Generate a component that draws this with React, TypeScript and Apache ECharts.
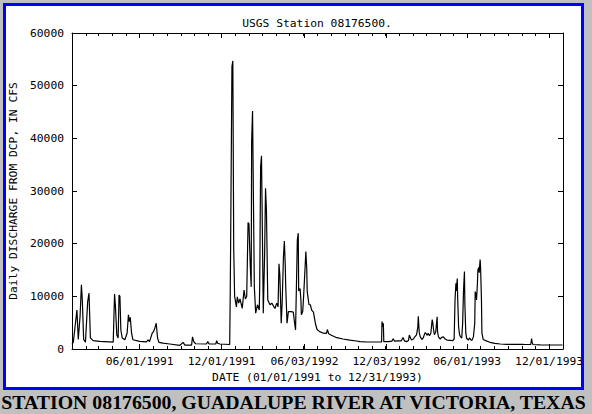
import React, { useEffect, useRef } from "react";
import * as echarts from "echarts";

// Daily discharge (cfs) at key dates
const dates: string[] = [
  "1991-01-01", "1991-01-04", "1991-01-12", "1991-01-15", "1991-01-19", "1991-01-22", "1991-01-24", "1991-01-27",
  "1991-01-31", "1991-02-05", "1991-02-08", "1991-02-11", "1991-02-17", "1991-03-04", "1991-03-26", "1991-04-03",
  "1991-04-06", "1991-04-08", "1991-04-11", "1991-04-14", "1991-04-16", "1991-04-18", "1991-04-20", "1991-04-23",
  "1991-04-29", "1991-05-04", "1991-05-07", "1991-05-09", "1991-05-11", "1991-05-14", "1991-05-17", "1991-06-01",
  "1991-06-16", "1991-06-20", "1991-06-23", "1991-06-29", "1991-07-02", "1991-07-05", "1991-07-08", "1991-07-11",
  "1991-07-14", "1991-07-23", "1991-08-07", "1991-08-30", "1991-09-06", "1991-09-10", "1991-09-25", "1991-09-27",
  "1991-09-30", "1991-10-04", "1991-10-28", "1991-10-31", "1991-11-03", "1991-11-18", "1991-11-20", "1991-11-22",
  "1991-11-27", "1991-12-19", "1991-12-20", "1991-12-21", "1991-12-24", "1991-12-26", "1991-12-28", "1991-12-30",
  "1992-01-03", "1992-01-05", "1992-01-08", "1992-01-11", "1992-01-16", "1992-01-20", "1992-01-23", "1992-01-26",
  "1992-01-29", "1992-01-31", "1992-02-03", "1992-02-05", "1992-02-06", "1992-02-08", "1992-02-10", "1992-02-12",
  "1992-02-15", "1992-02-19", "1992-02-23", "1992-02-24", "1992-02-26", "1992-02-28", "1992-02-29", "1992-03-03",
  "1992-03-06", "1992-03-08", "1992-03-10", "1992-03-13", "1992-03-18", "1992-03-22", "1992-03-29", "1992-04-02",
  "1992-04-05", "1992-04-07", "1992-04-09", "1992-04-12", "1992-04-14", "1992-04-17", "1992-04-19", "1992-04-21",
  "1992-04-22", "1992-04-25", "1992-04-28", "1992-05-04", "1992-05-09", "1992-05-11", "1992-05-14", "1992-05-18",
  "1992-05-20", "1992-05-21", "1992-05-24", "1992-05-26", "1992-05-27", "1992-05-30", "1992-06-01", "1992-06-04",
  "1992-06-06", "1992-06-08", "1992-06-09", "1992-06-13", "1992-06-16", "1992-06-19", "1992-06-23", "1992-06-26",
  "1992-06-28", "1992-07-01", "1992-07-07", "1992-07-15", "1992-07-22", "1992-07-24", "1992-07-27", "1992-08-02",
  "1992-08-14", "1992-08-28", "1992-09-12", "1992-09-27", "1992-10-05", "1992-10-20", "1992-11-18", "1992-11-22",
  "1992-11-23", "1992-11-25", "1992-11-26", "1992-11-27", "1992-12-07", "1992-12-15", "1992-12-18", "1992-12-21",
  "1992-12-29", "1993-01-05", "1993-01-09", "1993-01-12", "1993-01-17", "1993-01-21", "1993-01-23", "1993-01-26",
  "1993-01-28", "1993-02-01", "1993-02-05", "1993-02-08", "1993-02-11", "1993-02-12", "1993-02-14", "1993-02-16",
  "1993-02-20", "1993-02-23", "1993-02-27", "1993-03-01", "1993-03-04", "1993-03-06", "1993-03-09", "1993-03-12",
  "1993-03-15", "1993-03-16", "1993-03-18", "1993-03-20", "1993-03-23", "1993-03-26", "1993-03-27", "1993-03-29",
  "1993-04-02", "1993-04-05", "1993-04-09", "1993-04-13", "1993-04-17", "1993-04-24", "1993-04-30", "1993-05-03",
  "1993-05-05", "1993-05-07", "1993-05-08", "1993-05-10", "1993-05-11", "1993-05-13", "1993-05-15", "1993-05-17",
  "1993-05-20", "1993-05-22", "1993-05-24", "1993-05-26", "1993-05-27", "1993-05-29", "1993-05-31", "1993-06-04",
  "1993-06-06", "1993-06-10", "1993-06-12", "1993-06-15", "1993-06-18", "1993-06-19", "1993-06-21", "1993-06-22",
  "1993-06-24", "1993-06-25", "1993-06-27", "1993-06-28", "1993-06-30", "1993-07-01", "1993-07-03", "1993-07-04",
  "1993-07-07", "1993-07-15", "1993-07-22", "1993-08-02", "1993-08-14", "1993-08-29", "1993-09-20", "1993-10-05",
  "1993-10-21", "1993-10-23", "1993-10-24", "1993-10-26", "1993-11-11", "1993-12-03", "1993-12-31",
];

const discharge: number[] = [
  900, 1300, 7400, 1800, 6200, 12200, 9300, 1800,
  1300, 9000, 10600, 2100, 1600, 1450, 1350, 1300,
  10450, 8000, 2650, 2100, 10250, 10000, 3650, 2100,
  1750, 3000, 6500, 5200, 6000, 3000, 1750, 1450,
  1350, 1750, 1400, 3000, 3300, 4000, 4900, 2100,
  1250, 1100, 950, 700, 1250, 750, 750, 2300,
  1350, 1000, 950, 1400, 950, 950, 1600, 1100,
  950, 850, 8700, 18800, 53600, 54700, 19000, 10000,
  8000, 9900, 8700, 9500, 7700, 11200, 9500, 10000,
  24000, 23800, 15600, 11800, 39400, 45200, 28300, 11800,
  6800, 8400, 7400, 12000, 34600, 36700, 29500, 6800,
  18200, 30500, 26400, 9300, 8400, 8700, 7700, 8700,
  8000, 16200, 14000, 4900, 8500, 17500, 20500, 16000,
  12000, 4900, 7100, 7100, 7000, 5500, 3600, 20700,
  22000, 11000, 11500, 9300, 6500, 7100, 10000, 15000,
  18500, 15300, 11000, 8400, 8400, 7400, 7000, 5500,
  4600, 3700, 3300, 3000, 2950, 3700, 2900, 2600,
  2150, 1900, 1700, 1520, 1400, 1330, 1330, 1350,
  5200, 4200, 4900, 1400, 1400, 1500, 1950, 1500,
  1550, 1550, 2200, 1550, 1400, 1600, 2650, 2000,
  1700, 1900, 2400, 2700, 4200, 6200, 3200, 2400,
  1800, 2100, 3100, 3000, 2600, 3000, 2500, 3000,
  5600, 5200, 3700, 2700, 3300, 6100, 3300, 2300,
  1900, 2200, 2300, 1900, 1700, 1650, 1600, 1900,
  9300, 12500, 11000, 13400, 9300, 4200, 2800, 2300,
  2100, 4900, 11200, 14700, 8500, 3000, 2000, 1700,
  2100, 1700, 1700, 2300, 4900, 10900, 10300, 9300,
  12500, 15000, 15500, 14500, 17000, 15500, 9300, 3000,
  1800, 1500, 1270, 1080, 950, 890, 890, 870,
  850, 2000, 1300, 850, 800, 760, 760,
];

const majorTickDates: string[] = ["1991-06-01", "1991-12-01", "1992-06-03", "1992-12-03", "1993-06-01", "1993-12-01"];
const majorTickLabels: string[] = ["06/01/1991", "12/01/1991", "06/03/1992", "12/03/1992", "06/01/1993", "12/01/1993"];
const yTickStep = 10000;
const yMax = 60000;

const START = Date.UTC(1991, 0, 1);
const dayIndex = (s: string): number => {
  const [y, m, d] = s.split("-").map(Number);
  return Math.round((Date.UTC(y, m - 1, d) - START) / 86400000);
};
const X_MAX = dayIndex("1994-01-01");

const monthStarts: number[] = [];
for (let y = 1991; y <= 1993; y++) {
  for (let m = 0; m < 12; m++) {
    const v = Math.round((Date.UTC(y, m, 1) - START) / 86400000);
    if (v > 0) monthStarts.push(v);
  }
}
const majorDays = majorTickDates.map(dayIndex);
const labelByDay: Record<number, string> = {};
majorDays.forEach((d, i) => (labelByDay[d] = majorTickLabels[i]));

const MONO = "DejaVu Sans Mono";
const FS = 11.3;

export default function App() {
  const ref = useRef<HTMLDivElement>(null);
  useEffect(() => {
    if (!ref.current) return;
    const chart = echarts.init(ref.current, null, { renderer: "svg" });
    const black = { color: "#000", width: 1 };
    const xBase = (extra: any) => ({
      type: "value",
      min: 0,
      max: X_MAX,
      splitLine: { show: false },
      axisLine: { show: true, onZero: false, lineStyle: black },
      axisLabel: { show: false },
      ...extra,
    });
    const option: any = {
      animation: false,
      backgroundColor: "#c0c0c0",
      grid: { left: 72, top: 33, right: 29, bottom: 65, show: false },
      xAxis: [
        xBase({
          position: "bottom",
          axisTick: { show: true, inside: true, length: 3, customValues: monthStarts, lineStyle: black },
          axisLabel: {
            show: true,
            customValues: majorDays,
            formatter: (v: number) => labelByDay[Math.round(v)] ?? "",
            color: "#000",
            fontFamily: MONO,
            fontSize: FS,
            margin: 7,
          },
          name: "DATE (01/01/1991 to 12/31/1993)",
          nameLocation: "middle",
          nameGap: 21,
          nameTextStyle: { color: "#000", fontFamily: MONO, fontSize: FS },
        }),
        xBase({
          position: "bottom",
          axisLine: { show: false, onZero: false },
          axisTick: { show: true, inside: true, length: 5, customValues: majorDays, lineStyle: black },
        }),
        xBase({
          position: "top",
          axisTick: { show: true, inside: true, length: 3, customValues: monthStarts, lineStyle: black },
        }),
        xBase({
          position: "top",
          axisLine: { show: false, onZero: false },
          axisTick: { show: true, inside: true, length: 5, customValues: majorDays, lineStyle: black },
        }),
      ],
      yAxis: [
        {
          type: "value",
          position: "left",
          min: 0,
          max: yMax,
          interval: yTickStep,
          splitLine: { show: false },
          axisLine: { show: true, onZero: false, lineStyle: black },
          axisTick: { show: true, inside: true, length: 5, lineStyle: black },
          axisLabel: {
            color: "#000",
            fontFamily: MONO,
            fontSize: FS,
            margin: 8,
            formatter: (v: number) => String(v),
          },
          name: "Daily DISCHARGE FROM DCP, IN CFS",
          nameLocation: "middle",
          nameRotate: 90,
          nameGap: 47,
          nameTextStyle: { color: "#000", fontFamily: MONO, fontSize: FS },
        },
        {
          type: "value",
          position: "right",
          min: 0,
          max: yMax,
          interval: yTickStep,
          splitLine: { show: false },
          axisLine: { show: true, onZero: false, lineStyle: black },
          axisTick: { show: true, inside: true, length: 5, lineStyle: black },
          axisLabel: { show: false },
        },
      ],
      series: [
        {
          type: "line",
          xAxisIndex: 0,
          yAxisIndex: 0,
          data: dates.map((d, i) => [dayIndex(d), discharge[i]]),
          symbol: "none",
          showSymbol: false,
          lineStyle: { color: "#000", width: 1.2 },
          clip: true,
        },
      ],
      graphic: [
        {
          type: "rect",
          z: -10,
          silent: true,
          shape: { x: 6, y: 6, width: 575, height: 381 },
          style: { fill: "#ffffff" },
        },
        {
          type: "rect",
          z: 100,
          silent: true,
          shape: { x: 4.5, y: 4.5, width: 578, height: 384 },
          style: { fill: "none", stroke: "#0000ff", lineWidth: 3 },
        },
        {
          type: "text",
          z: 50,
          x: 317,
          y: 23,
          style: {
            text: "USGS Station 08176500.",
            fill: "#000",
            fontFamily: MONO,
            fontSize: FS,
            textAlign: "center",
            textVerticalAlign: "middle",
            align: "center",
            verticalAlign: "middle",
          },
        },
        {
          type: "text",
          z: 50,
          x: 293.5,
          y: 402,
          style: {
            text: "STATION 08176500, GUADALUPE RIVER AT VICTORIA, TEXAS",
            fill: "#000",
            fontFamily: "Liberation Serif",
            fontWeight: "bold",
            fontSize: 19.8,
            textAlign: "center",
            textVerticalAlign: "middle",
            align: "center",
            verticalAlign: "middle",
          },
        },
      ],
    };
    chart.setOption(option);
    return () => chart.dispose();
  }, []);
  return (
    <div
      ref={ref}
      style={{ position: "fixed", left: 0, top: 0, width: 592, height: 414 }}
    />
  );
}
